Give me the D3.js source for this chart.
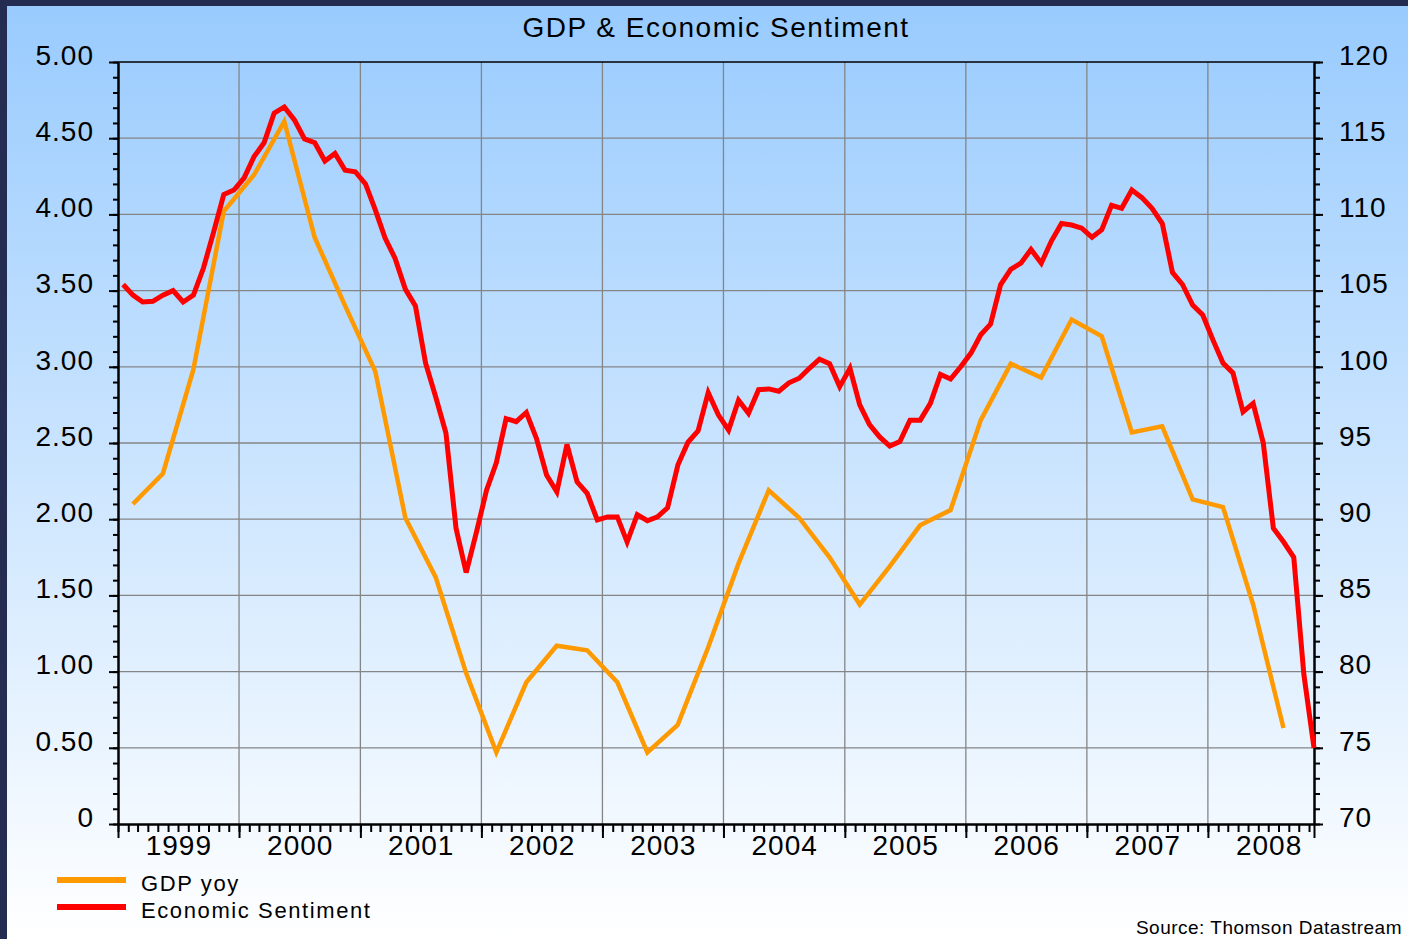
<!DOCTYPE html>
<html>
<head>
<meta charset="utf-8">
<script src="https://cdn.jsdelivr.net/npm/d3@7"></script>
<style>
  body { margin: 0; background: #252c52; }
  svg  { display: block; font-family: "Liberation Sans", Arial, sans-serif; }
</style>
</head>
<body>
<div id="chart"></div>
<script>
/* ---------- data ---------- */
// monthly, Jan 1999 .. Nov 2008 (right axis)
const sentiment = [
  105.4, 104.7, 104.25, 104.3, 104.7, 105.0, 104.25, 104.7, 106.5, 108.85, 111.3, 111.6,
  112.4, 113.8, 114.7, 116.65, 117.05, 116.2, 114.95, 114.7, 113.5, 114.0, 112.9, 112.8,
  112.0, 110.3, 108.45, 107.1, 105.1, 104.0, 100.25, 98.0, 95.65, 89.4, 86.5, 89.1,
  91.9, 93.7, 96.6, 96.4, 97.0, 95.3, 92.9, 91.8, 94.9, 92.45, 91.7, 89.95,
  90.15, 90.15, 88.5, 90.3, 89.9, 90.15, 90.75, 93.55, 95.05, 95.8, 98.3, 96.85,
  95.85, 97.8, 96.95, 98.5, 98.55, 98.4, 98.95, 99.25, 99.9, 100.5, 100.2, 98.7,
  99.9, 97.5, 96.2, 95.4, 94.8, 95.1, 96.5, 96.5, 97.6, 99.5, 99.2, 100.0,
  100.9, 102.1, 102.8, 105.4, 106.4, 106.8, 107.7, 106.8, 108.25, 109.4, 109.3, 109.1,
  108.5, 109.0, 110.6, 110.4, 111.6, 111.1, 110.4, 109.4, 106.2, 105.4, 104.05, 103.4,
  101.75, 100.25, 99.6, 97.05, 97.6, 95.0, 89.4, 88.5, 87.5, 79.8, 75.0
];
// quarterly, Q1 1999 .. Q3 2008 (left axis)
const gdpYoy = [
  2.10, 2.30, 2.98, 4.02,
  4.26, 4.61, 3.85, 3.40,
  2.97, 2.01, 1.62, 0.99,
  0.47, 0.93, 1.17, 1.14,
  0.93, 0.47, 0.65, 1.16,
  1.71, 2.19, 2.01, 1.75,
  1.44, 1.69, 1.96, 2.06,
  2.65, 3.02, 2.93, 3.31,
  3.20, 2.57, 2.61, 2.13,
  2.08, 1.44, 0.63
];
const leftTicks  = [0, 0.5, 1, 1.5, 2, 2.5, 3, 3.5, 4, 4.5, 5];
const rightTicks = [70, 75, 80, 85, 90, 95, 100, 105, 110, 115, 120];
const years      = [1999, 2000, 2001, 2002, 2003, 2004, 2005, 2006, 2007, 2008];
const legendItems = [
  { label: 'GDP yoy',            color: '#ff9900' },
  { label: 'Economic Sentiment', color: '#ff0000' }
];

/* ---------- helpers ---------- */
const START = new Date(1999, 0, 1);
const midOf = (a, b) => new Date((+a + +b) / 2);
const monthMid   = i => midOf(d3.timeMonth.offset(START, i), d3.timeMonth.offset(START, i + 1));
const quarterMid = i => midOf(d3.timeMonth.offset(START, 3 * i), d3.timeMonth.offset(START, 3 * i + 3));

/* ---------- layout ---------- */
const W = 1408, H = 939;
const P = { left: 118, right: 1314, top: 62, bottom: 824 };

const svg = d3.select('#chart').append('svg')
  .attr('width', W).attr('height', H);

const grad = svg.append('defs').append('linearGradient')
  .attr('id', 'bg').attr('x1', 0).attr('y1', 0).attr('x2', 0).attr('y2', 1);
grad.append('stop').attr('offset', '0%').attr('stop-color', '#99cbfe');
grad.append('stop').attr('offset', '100%').attr('stop-color', '#ffffff');

svg.append('rect').attr('width', W).attr('height', H).attr('fill', '#252c52');
svg.append('rect').attr('x', 7).attr('y', 6).attr('width', W - 7).attr('height', H - 6)
  .attr('fill', 'url(#bg)');

/* ---------- scales ---------- */
const x = d3.scaleTime()
  .domain([START, monthMid(sentiment.length - 1)])
  .range([P.left, P.right]);
const yL = d3.scaleLinear().domain([0, 5]).range([P.bottom, P.top]);
const yR = d3.scaleLinear().domain([70, 120]).range([P.bottom, P.top]);

/* ---------- grid ---------- */
const grid = svg.append('g').attr('stroke', '#858585').attr('stroke-width', 1.3);
grid.selectAll('line.h')
  .data(leftTicks.slice(1, -1))
  .join('line').attr('class', 'h')
    .attr('x1', P.left).attr('x2', P.right)
    .attr('y1', d => yL(d)).attr('y2', d => yL(d));
grid.selectAll('line.v')
  .data(years.slice(1))
  .join('line').attr('class', 'v')
    .attr('x1', d => x(new Date(d, 0, 1))).attr('x2', d => x(new Date(d, 0, 1)))
    .attr('y1', P.top).attr('y2', P.bottom);

// top frame line
svg.append('line')
  .attr('x1', P.left).attr('x2', P.right).attr('y1', P.top).attr('y2', P.top)
  .attr('stroke', '#000').attr('stroke-width', 1.5);

/* ---------- axes ---------- */
const styleAxis = g => {
  g.selectAll('path,line').attr('stroke', '#000').attr('stroke-width', 2);
  g.selectAll('text').attr('fill', '#000').attr('font-size', 28).attr('letter-spacing', 1)
    .attr('font-family', '"Liberation Sans", Arial, sans-serif');
};

// left minor + major
svg.append('g').attr('transform', `translate(${P.left},0)`)
  .call(d3.axisLeft(yL).ticks(50).tickSize(5).tickSizeOuter(0).tickFormat(''))
  .call(styleAxis);
svg.append('g').attr('transform', `translate(${P.left},0)`)
  .call(d3.axisLeft(yL).tickValues(leftTicks).tickSize(9).tickSizeOuter(0).tickPadding(15)
    .tickFormat(d => d === 0 ? '0' : d.toFixed(2)))
  .call(styleAxis)
  .call(g => g.selectAll('text').attr('dy', '0.08em'));

// right minor + major
svg.append('g').attr('transform', `translate(${P.right},0)`)
  .call(d3.axisRight(yR).ticks(50).tickSize(6).tickSizeOuter(0).tickFormat(''))
  .call(styleAxis);
svg.append('g').attr('transform', `translate(${P.right},0)`)
  .call(d3.axisRight(yR).tickValues(rightTicks).tickSize(9).tickSizeOuter(0).tickPadding(16)
    .tickFormat(d3.format('d')))
  .call(styleAxis)
  .call(g => g.selectAll('text').attr('dy', '0.08em'));

// bottom: monthly minor, yearly major, labels at mid-year
svg.append('g').attr('transform', `translate(0,${P.bottom})`)
  .call(d3.axisBottom(x).ticks(d3.timeMonth.every(1)).tickSize(8).tickSizeOuter(0).tickFormat(''))
  .call(styleAxis);
svg.append('g').attr('transform', `translate(0,${P.bottom})`)
  .call(d3.axisBottom(x)
    .tickValues([START, ...years.slice(1).map(y => new Date(y, 0, 1)), x.domain()[1]])
    .tickSize(14).tickSizeOuter(0).tickFormat(''))
  .call(styleAxis);
svg.append('g').attr('transform', `translate(0,${P.bottom})`)
  .call(d3.axisBottom(x).tickValues(years.map(y => new Date(y, 6, 2)))
    .tickSize(0).tickPadding(11).tickFormat(d3.timeFormat('%Y')))
  .call(styleAxis)
  .call(g => g.select('.domain').remove());

/* ---------- lines ---------- */
const gdpLine = d3.line().x((d, i) => x(quarterMid(i))).y(d => yL(d));
const sentLine = d3.line().x((d, i) => x(monthMid(i))).y(d => yR(d));

svg.append('path').datum(gdpYoy)
  .attr('fill', 'none').attr('stroke', '#ff9900').attr('stroke-width', 4.5)
  .attr('d', gdpLine);
svg.append('path').datum(sentiment)
  .attr('fill', 'none').attr('stroke', '#ff0000').attr('stroke-width', 5)
  .attr('d', sentLine);

/* ---------- title, legend, source ---------- */
svg.append('text')
  .attr('x', 716).attr('y', 37).attr('text-anchor', 'middle')
  .attr('font-size', 28).attr('letter-spacing', 1.5).text('GDP & Economic Sentiment');

const leg = svg.append('g').selectAll('g')
  .data(legendItems)
  .join('g')
    .attr('transform', (d, i) => `translate(57,${880 + i * 27})`);
leg.append('line')
  .attr('x1', 0).attr('x2', 69)
  .attr('stroke', d => d.color).attr('stroke-width', 6);
leg.append('text')
  .attr('x', 84).attr('y', 11)
  .attr('font-size', 22).attr('letter-spacing', 1.6)
  .text(d => d.label);

svg.append('text')
  .attr('x', 1402).attr('y', 934).attr('text-anchor', 'end')
  .attr('font-size', 19).attr('letter-spacing', 0.5)
  .text('Source: Thomson Datastream');
</script>
</body>
</html>
